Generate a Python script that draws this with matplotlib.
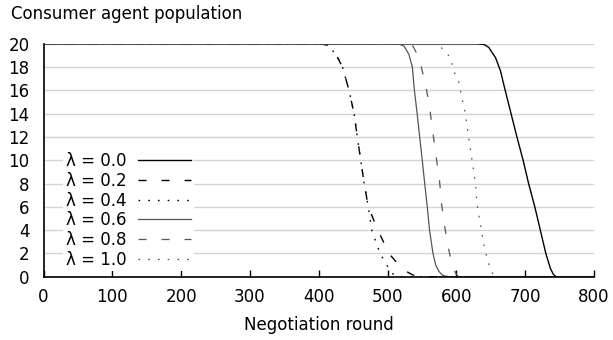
import matplotlib
matplotlib.use("Agg")
import matplotlib.pyplot as plt

# Data
x_l00 = [0, 630, 640, 647, 657, 664, 671, 679.5, 688, 697, 705, 714, 722, 730, 736.5, 741, 745, 800]
y_l00 = [20, 20, 19.95, 19.7, 18.8, 17.7, 16, 14, 12, 10, 8, 6, 4, 2, 0.74, 0.2, 0, 0]

x_l02 = [0, 400, 413, 425, 434.5, 444, 451.4, 456, 461, 466, 472, 486, 502, 515, 525, 535, 545, 800]
y_l02 = [20, 20, 19.9, 19.1, 18, 16, 14, 12, 10, 8, 6, 4, 2, 1.1, 0.54, 0.2, 0, 0]

x_l04 = [0, 400, 413, 425, 434.5, 444, 451.4, 456, 461, 466, 472, 477, 489, 500, 507, 512, 800]
y_l04 = [20, 20, 19.9, 19.1, 18, 16, 14, 12, 10, 8, 6, 4, 2, 0.9, 0.3, 0, 0]

x_l06 = [0, 510, 518, 524, 531, 536, 539, 543, 546.7, 550.4, 554, 557.7, 561, 566, 570, 574.6, 580, 589, 800]
y_l06 = [20, 20, 19.95, 19.8, 19.1, 18, 16, 14, 12, 10, 8, 6, 4, 2, 1.0, 0.46, 0.12, 0, 0]

x_l08 = [0, 528, 537, 545.7, 555, 561, 566, 570.7, 575.6, 578.5, 583, 589, 594, 599, 603, 800]
y_l08 = [20, 20, 19.8, 18.8, 16.6, 14.6, 12.3, 10.3, 8.2, 6.2, 4.3, 2.3, 1.0, 0.3, 0, 0]

x_l10 = [0, 565, 573, 579.5, 591.6, 596, 603.6, 608.4, 613.3, 618, 623, 628, 630, 635, 640, 644.6, 649, 654, 657, 800]
y_l10 = [20, 20, 19.9, 19.6, 18.8, 17.7, 16.7, 15.3, 13.9, 11.9, 9.9, 7.9, 6.2, 4.5, 2.7, 1.6, 0.7, 0.1, 0, 0]

labels = ["λ = 0.0", "λ = 0.2", "λ = 0.4", "λ = 0.6", "λ = 0.8", "λ = 1.0"]
x_ticks = [0, 100, 200, 300, 400, 500, 600, 700, 800]
y_ticks = [0, 2, 4, 6, 8, 10, 12, 14, 16, 18, 20]

plt.rcParams['font.family'] = ['DejaVu Sans']
plt.rcParams['lines.scale_dashes'] = False

fs = 12
fig = plt.figure(figsize=(6.13, 3.40), dpi=100)
ax = fig.add_axes([0.071, 0.186, 0.898, 0.685])

black = "#000000"
gray = "#555555"
dash = (0, (5.8, 10.8))
dot = (0, (1.2, 5.8))

ax.plot(x_l00, y_l00, color=black, lw=1.0, linestyle='-', label=labels[0])
ax.plot(x_l02, y_l02, color=black, lw=1.0, linestyle=dash, label=labels[1])
ax.plot(x_l04, y_l04, color=black, lw=1.0, linestyle=dot, label=labels[2])
ax.plot(x_l06, y_l06, color=gray, lw=0.9, linestyle='-', label=labels[3])
ax.plot(x_l08, y_l08, color=gray, lw=0.9, linestyle=dash, label=labels[4])
ax.plot(x_l10, y_l10, color=gray, lw=0.9, linestyle=dot, label=labels[5])

ax.set_xlim(0, 800)
ax.set_ylim(0, 20)
ax.set_xticks(x_ticks)
ax.set_yticks(y_ticks)
ax.tick_params(axis='x', direction='in', length=5, width=1, colors='black', labelsize=fs, pad=8)
ax.tick_params(axis='y', length=0, labelsize=fs, pad=10)
ax.grid(axis='y', color='#d4d4d4', lw=1)
ax.set_axisbelow(True)
for s in ['top', 'right']:
    ax.spines[s].set_visible(False)
for s in ['left', 'bottom']:
    ax.spines[s].set_linewidth(1.2)
    ax.spines[s].set_color('black')

ax.set_xlabel("Negotiation round", fontsize=fs, labelpad=7)
fig.text(0.018, 0.985, "Consumer agent population", fontsize=fs, ha='left', va='top')

leg = ax.legend(loc='lower left', bbox_to_anchor=(0.03, 0.01), frameon=True, fontsize=fs,
                markerfirst=False, handlelength=3.2, labelspacing=0.1, borderpad=0.15,
                handletextpad=0.7, borderaxespad=0.2)
leg.get_frame().set_edgecolor('none')
leg.get_frame().set_facecolor('white')
leg.get_frame().set_alpha(1.0)

fig.savefig("out.png", dpi=100)
